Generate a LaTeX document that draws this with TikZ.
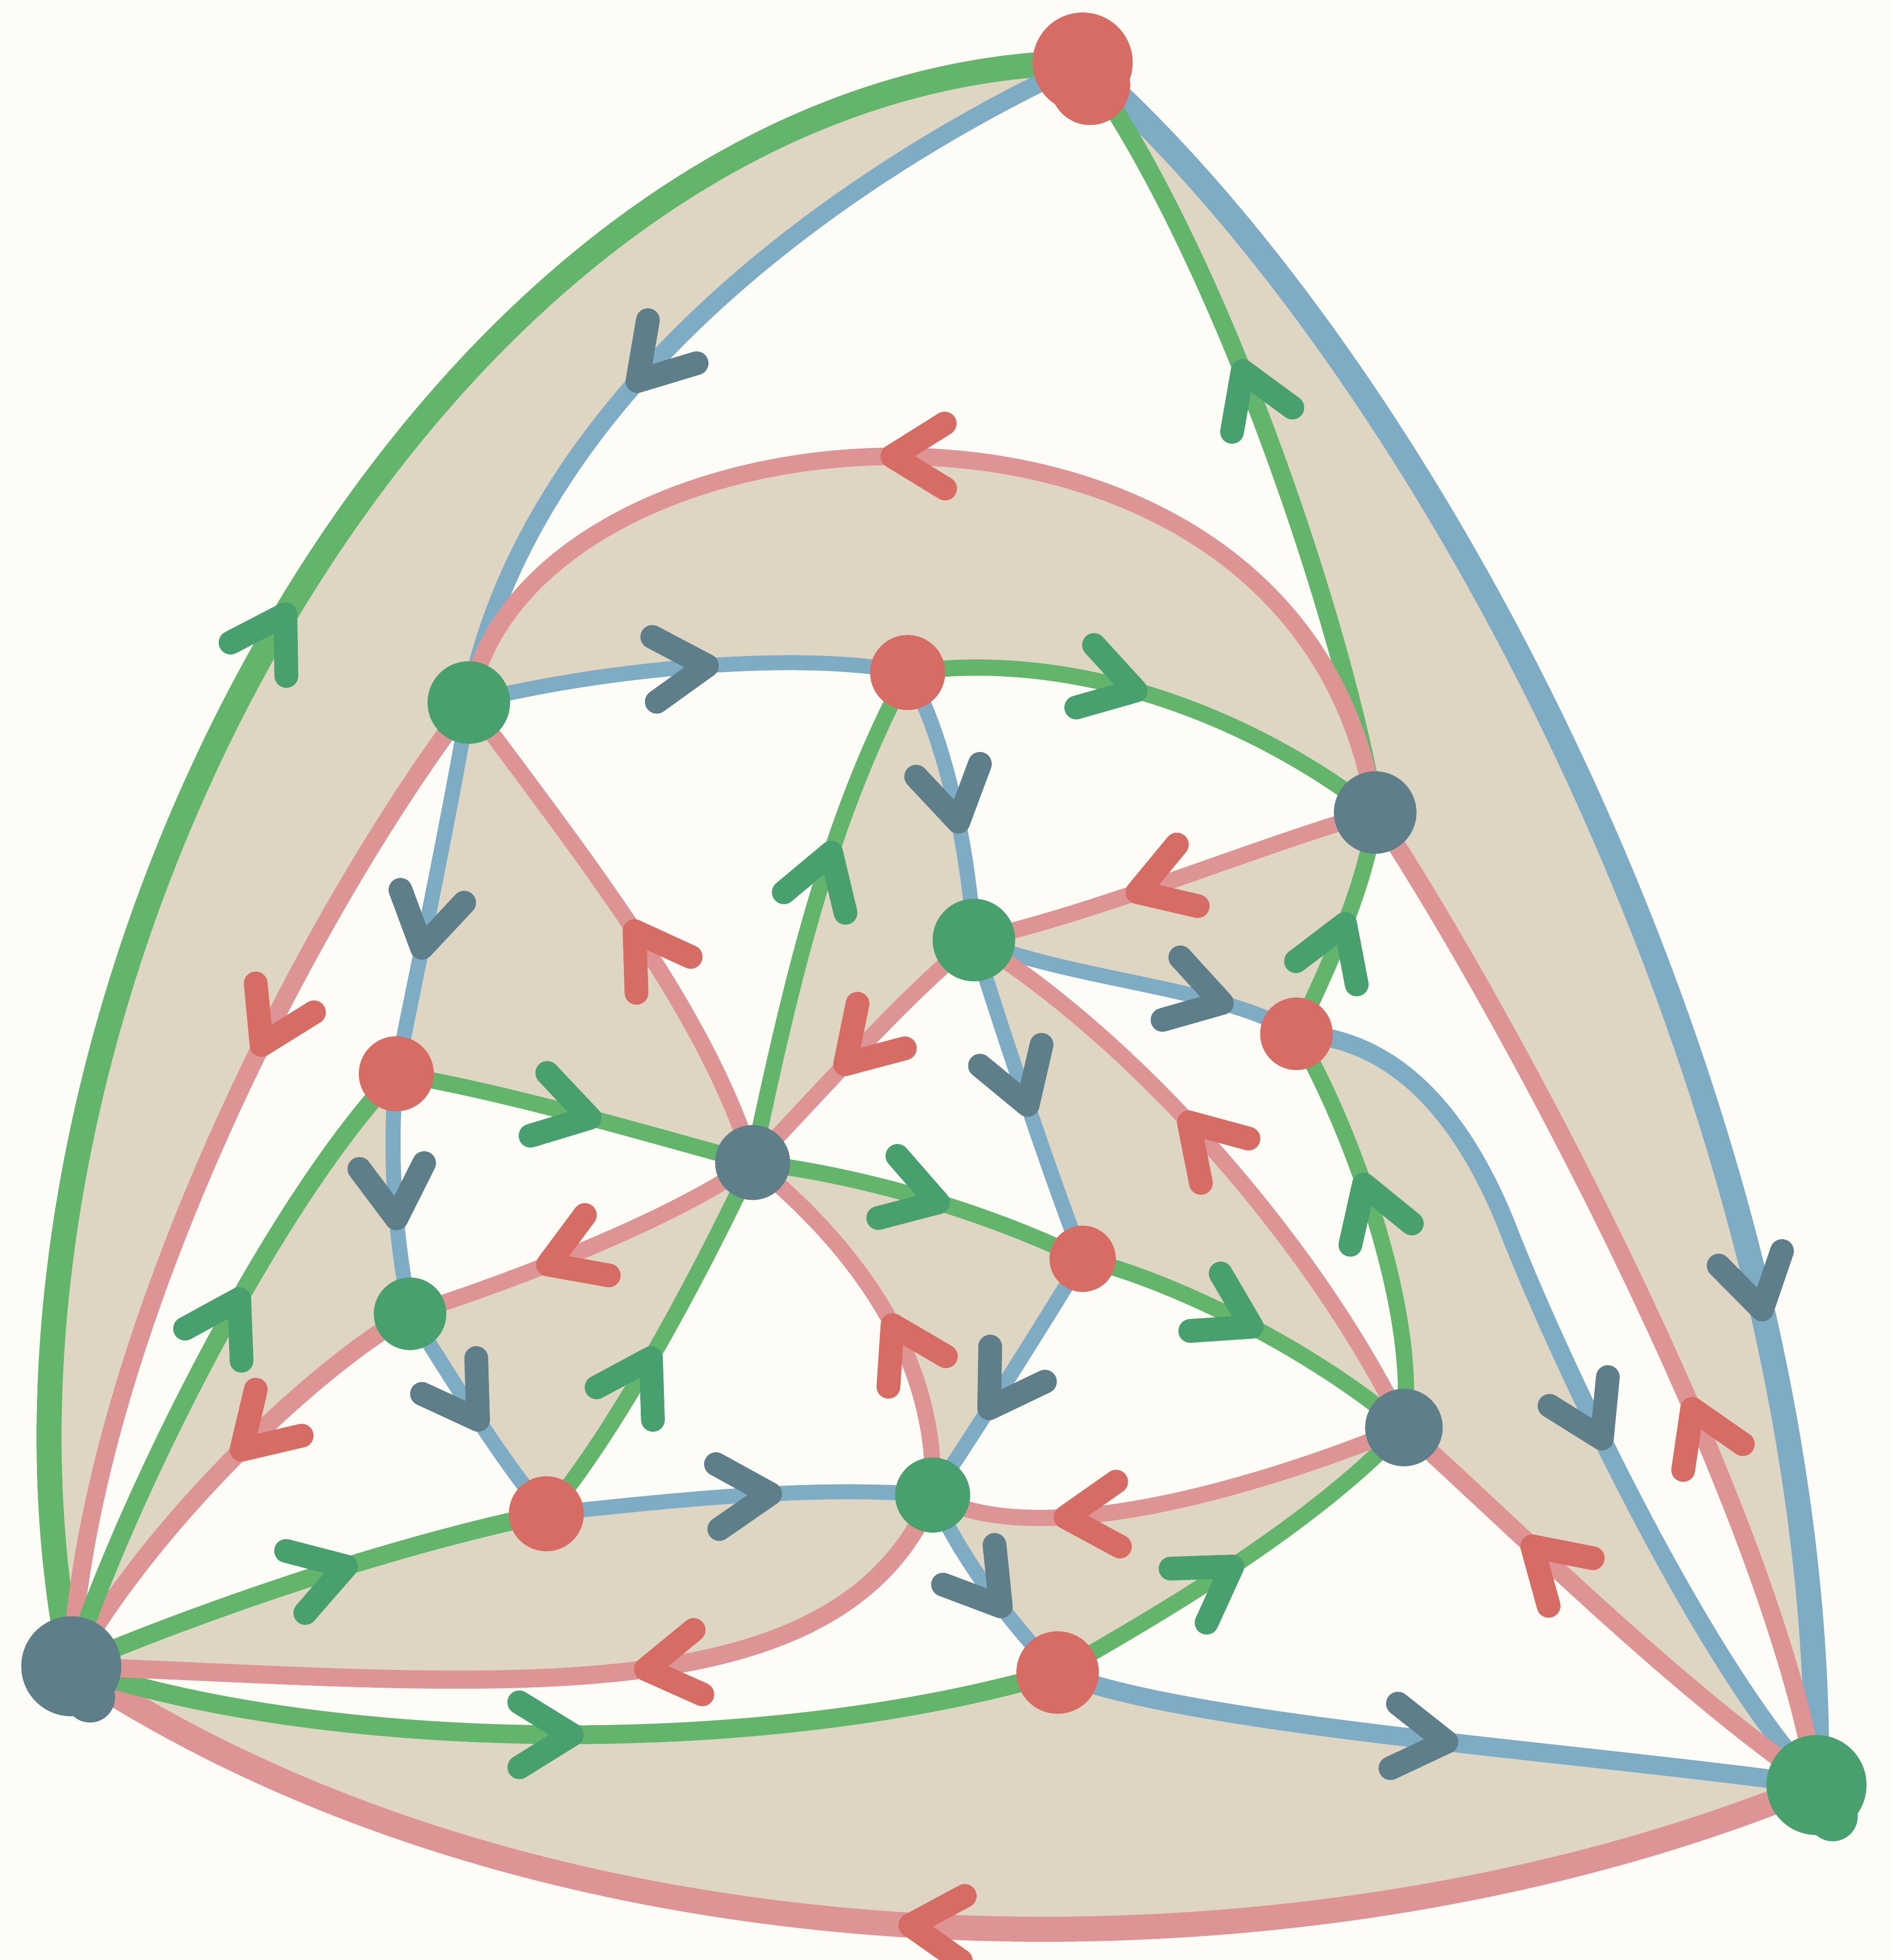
\documentclass[tikz,border=0pt]{standalone}
\usetikzlibrary{decorations.markings}
\definecolor{cBg}{HTML}{FEFCF7}
\definecolor{cFace}{HTML}{DFD5C3}
\definecolor{cG}{HTML}{62B56A}
\definecolor{cB}{HTML}{7EACC5}
\definecolor{cP}{HTML}{DE9494}
\definecolor{nG}{HTML}{47A06E}
\definecolor{nB}{HTML}{5E7E8A}
\definecolor{nR}{HTML}{D76C64}
\pgfdeclarelayer{bg}
\pgfdeclarelayer{faces}
\pgfdeclarelayer{edges}
\pgfsetlayers{bg,faces,edges,main}
\tikzset{
  chev/.style={line width=1.9mm,line cap=round,line join=round},
  eG/.style={draw=cG,line cap=round,line join=round},
  eB/.style={draw=cB,line cap=round,line join=round},
  eP/.style={draw=cP,line cap=round,line join=round},
  aG/.style={postaction={decorate,decoration={markings,mark=at position #1 with {\draw[chev,draw=nG] (-42,26)--(0,0)--(-42,-26);}}}},
  aB/.style={postaction={decorate,decoration={markings,mark=at position #1 with {\draw[chev,draw=nB] (-42,26)--(0,0)--(-42,-26);}}}},
  aP/.style={postaction={decorate,decoration={markings,mark=at position #1 with {\draw[chev,draw=nR] (-42,26)--(0,0)--(-42,-26);}}}},
  vR/.style={circle,fill=nR,inner sep=0pt,minimum size=#1mm},
  vG/.style={circle,fill=nG,inner sep=0pt,minimum size=#1mm},
  vB/.style={circle,fill=nB,inner sep=0pt,minimum size=#1mm},
}
\newcommand\defE[2]{\expandafter\def\csname pE#1\endcsname{#2}}
\newcommand\edg[4]{\edef\tmpa{\noexpand\draw[e#2,line width=#3mm,a#2=#4] \csname pE#1\endcsname;}\tmpa}
\newcommand\face[3]{\edef\tmpa{\noexpand\fill[cFace] \csname pE#1\endcsname -- \csname pE#2\endcsname -- \csname pE#3\endcsname -- cycle;}\tmpa}

\defE{1}{(Bbl.center) .. controls (-50,810) and (340,58) .. (Rt.center)}
\defE{2}{(Rt.center) .. controls (1150,300) and (1460,900) .. (Gbr.center)}
\defE{3}{(Gbr.center) .. controls (1050,1595) and (450,1595) .. (Bbl.center)}
\defE{4}{(Rt.center) .. controls (650,150) and (420,330) .. (G1.center)}
\defE{5}{(B2.center) .. controls (1075,500) and (975,200) .. (Rt.center)}
\defE{6}{(G1.center) .. controls (240,740) and (70,1080) .. (Bbl.center)}
\defE{7}{(B2.center) .. controls (1040,260) and (420,310) .. (G1.center)}
\defE{8}{(Gbr.center) .. controls (1415,1200) and (1200,800) .. (B2.center)}
\defE{9}{(R1037.center) .. controls (1110,830) and (1167,883) .. (1207,985) .. controls (1243,1078) and (1360,1330) .. (Gbr.center)}
\defE{10}{(Gbr.center) .. controls (1340,1350) and (1220,1230) .. (B1123.center)}
\defE{11}{(R846.center) .. controls (930,1290) and (1050,1220) .. (B1123.center)}
\defE{12}{(R846.center) .. controls (950,1380) and (1250,1400) .. (Gbr.center)}
\defE{13}{(Bbl.center) .. controls (250,1400) and (600,1410) .. (R846.center)}
\defE{14}{(G746.center) .. controls (670,1380) and (380,1345) .. (Bbl.center)}
\defE{15}{(Bbl.center) .. controls (170,1285) and (320,1235) .. (R437.center)}
\defE{16}{(G328.center) .. controls (250,1095) and (120,1220) .. (Bbl.center)}
\defE{17}{(Bbl.center) .. controls (100,1200) and (220,960) .. (R316.center)}
\defE{18}{(G1.center) .. controls (360,650) and (335,770) .. (R316.center)}
\defE{19}{(G1.center) .. controls (480,535) and (640,520) .. (R726.center)}
\defE{20}{(Bc.center) .. controls (565,810) and (470,690) .. (G1.center)}
\defE{21}{(R726.center) .. controls (850,520) and (990,565) .. (B2.center)}
\defE{22}{(Bc.center) .. controls (630,800) and (660,660) .. (R726.center)}
\defE{23}{(R726.center) .. controls (755,585) and (775,680) .. (G778.center)}
\defE{24}{(B2.center) .. controls (1010,675) and (880,730) .. (G778.center)}
\defE{25}{(R1037.center) .. controls (1065,770) and (1095,700) .. (B2.center)}
\defE{26}{(G778.center) .. controls (860,785) and (980,790) .. (R1037.center)}
\defE{27}{(G778.center) .. controls (720,800) and (660,870) .. (Bc.center)}
\defE{28}{(B1123.center) .. controls (1060,1010) and (920,840) .. (G778.center)}
\defE{29}{(G778.center) .. controls (800,820) and (840,940) .. (R866.center)}
\defE{30}{(B1123.center) .. controls (1135,1050) and (1080,900) .. (R1037.center)}
\defE{31}{(Bc.center) .. controls (690,940) and (790,970) .. (R866.center)}
\defE{32}{(R866.center) .. controls (940,1025) and (1050,1080) .. (B1123.center)}
\defE{33}{(R866.center) .. controls (840,1050) and (790,1130) .. (G746.center)}
\defE{34}{(B1123.center) .. controls (1020,1185) and (830,1245) .. (G746.center)}
\defE{35}{(G746.center) .. controls (750,1100) and (700,1010) .. (Bc.center)}
\defE{36}{(R437.center) .. controls (490,1150) and (560,1020) .. (Bc.center)}
\defE{37}{(Bc.center) .. controls (540,975) and (410,1025) .. (G328.center)}
\defE{38}{(R316.center) .. controls (410,875) and (510,905) .. (Bc.center)}
\defE{39}{(R316.center) .. controls (310,930) and (318,1000) .. (G328.center)}
\defE{40}{(G328.center) .. controls (360,1100) and (395,1160) .. (R437.center)}
\defE{41}{(R437.center) .. controls (540,1200) and (650,1188) .. (G746.center)}
\defE{42}{(G746.center) .. controls (770,1250) and (810,1300) .. (R846.center)}

\begin{document}
\begin{tikzpicture}[x=0.1mm,y=-0.1mm]
\begin{pgfonlayer}{bg}
\fill[cBg] (0,0) rectangle (1514,1568);
\end{pgfonlayer}
\useasboundingbox (0,0) rectangle (1514,1568);
% vertices
\node[vR=8] (Rt) at (866,50) {};
\fill[nR] (872,68) circle (32);
\node[vB=8] (Bbl) at (57,1333) {};
\fill[nB] (72,1358) circle (20);
\node[vG=8] (Gbr) at (1453,1428) {};
\fill[nG] (1466,1453) circle (20);
\node[vG=6.6] (G1) at (375,562) {};
\node[vR=6] (R726) at (726,538) {};
\node[vB=6.6] (B2) at (1100,650) {};
\node[vG=6.6] (G778) at (779,752) {};
\node[vR=6] (R316) at (317,859) {};
\node[vB=6] (Bc) at (602,930) {};
\node[vR=5.8] (R1037) at (1037,827) {};
\node[vR=5.3] (R866) at (866,1007) {};
\node[vG=5.8] (G328) at (328,1051) {};
\node[vB=6.2] (B1123) at (1123,1142) {};
\node[vR=6] (R437) at (437,1211) {};
\node[vG=6] (G746) at (746,1196) {};
\node[vR=6.6] (R846) at (846,1338) {};
% faces
\begin{pgfonlayer}{faces}
\face{4}{6}{1}
\face{2}{8}{5}
\face{19}{21}{7}
\face{18}{38}{20}
\face{24}{26}{25}
\face{29}{32}{28}
\face{23}{27}{22}
\face{31}{33}{35}
\face{37}{40}{36}
\face{9}{10}{30}
\face{34}{42}{11}
\face{14}{15}{41}
\face{16}{17}{39}
\face{12}{3}{13}
\end{pgfonlayer}
% edges
\begin{pgfonlayer}{edges}
\edg{1}{G}{2.0}{0.52}
\edg{2}{B}{2.0}{0.75}
\edg{3}{P}{2.0}{0.51}
\edg{4}{B}{1.45}{0.60}
\edg{5}{G}{1.45}{0.57}
\edg{6}{P}{1.45}{0.38}
\edg{7}{P}{1.4}{0.555}
\edg{8}{P}{1.45}{0.37}
\edg{9}{B}{1.45}{0.567}
\edg{10}{P}{1.45}{0.68}
\edg{11}{G}{1.3}{0.48}
\edg{12}{B}{1.5}{0.515}
\edg{13}{G}{1.5}{0.508}
\edg{14}{P}{1.45}{0.38}
\edg{15}{G}{1.45}{0.585}
\edg{16}{P}{1.45}{0.44}
\edg{17}{G}{1.45}{0.595}
\edg{18}{B}{1.2}{0.66}
\edg{19}{B}{1.2}{0.545}
\edg{20}{P}{1.3}{0.48}
\edg{21}{G}{1.3}{0.46}
\edg{22}{G}{1.3}{0.62}
\edg{23}{B}{1.2}{0.57}
\edg{24}{P}{1.3}{0.595}
\edg{25}{G}{1.3}{0.51}
\edg{26}{B}{1.2}{0.76}
\edg{27}{P}{1.3}{0.57}
\edg{28}{P}{1.3}{0.57}
\edg{29}{B}{1.2}{0.515}
\edg{30}{G}{1.3}{0.6}
\edg{31}{G}{1.3}{0.55}
\edg{32}{G}{1.3}{0.5}
\edg{33}{B}{1.2}{0.63}
\edg{34}{P}{1.3}{0.72}
\edg{35}{P}{1.3}{0.45}
\edg{36}{G}{1.3}{0.46}
\edg{37}{P}{1.3}{0.61}
\edg{38}{G}{1.3}{0.54}
\edg{39}{B}{1.2}{0.6}
\edg{40}{B}{1.2}{0.52}
\edg{41}{B}{1.2}{0.58}
\edg{42}{B}{1.2}{0.6}
\end{pgfonlayer}
\end{tikzpicture}
\end{document}
